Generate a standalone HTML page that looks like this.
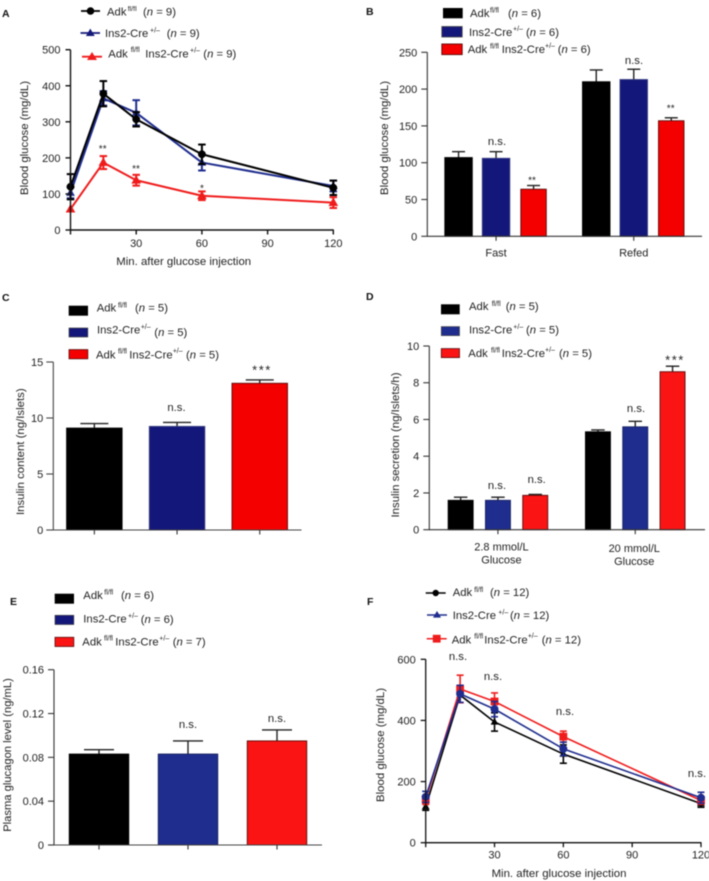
<!DOCTYPE html>
<html lang="en">
<head>
<meta charset="utf-8">
<title>Adk knockout glucose and insulin panels</title>
<style>
html,body{margin:0;padding:0;background:#fff;width:709px;height:881px;overflow:hidden}
svg{display:block;filter:blur(0.4px)}
text{font-family:"Liberation Sans",Arial,sans-serif;fill:#222;font-size:11.3px}
.sup{font-size:7px}
.it{font-style:italic}
.letter{font-weight:bold;font-size:10.5px;fill:#111}
.tick{font-size:11px}
.ttl{font-size:11.4px}
.star{font-size:10px;text-anchor:middle}
.star3{font-size:13px;text-anchor:middle;letter-spacing:1.5px}
.ns{font-size:11.3px;text-anchor:middle}
</style>
</head>
<body>
<svg id="figure" width="709" height="881" viewBox="0 0 709 881" xmlns="http://www.w3.org/2000/svg">

<!-- Panel A static -->
<g id="panelA">
<text class="letter" x="2" y="17">A</text>
<g>
<line x1="81" x2="100" y1="11" y2="11" stroke="#000" stroke-width="1.8"/><circle cx="90.5" cy="11" r="3.8" fill="#000"/>
<text x="107" y="15.3">Adk<tspan class="sup" x="127.7" y="11">fl/fl</tspan><tspan x="143" y="15.3">(</tspan><tspan class="it">n</tspan> = 9)</text>
<line x1="80.5" x2="100" y1="33" y2="33" stroke="#14197a" stroke-width="1.8"/><path d="M90.3 28.6l4.4 7.4h-8.8z" fill="#14197a"/>
<text x="105" y="37">Ins2-Cre<tspan class="sup" x="150" y="32.5">+/–</tspan><tspan x="166.7" y="37">(</tspan><tspan class="it">n</tspan> = 9)</text>
<line x1="82" x2="102" y1="56.7" y2="56.7" stroke="#f01c1c" stroke-width="1.8"/><path d="M92 52l5 8h-10z" fill="#f01c1c"/>
<text x="108.3" y="57.3">Adk<tspan class="sup" x="130.7" y="52">fl/fl</tspan><tspan x="145.3" y="57.3">Ins2-Cre</tspan><tspan class="sup" x="190" y="52.5">+/–</tspan><tspan x="203.3" y="57.3">(</tspan><tspan class="it">n</tspan> = 9)</text>
</g>
<text class="ttl" transform="translate(28,138) rotate(-90)" text-anchor="middle">Blood glucose (mg/dL)</text>
<text class="ttl" x="183.7" y="265" text-anchor="middle">Min. after glucose injection</text>
<text class="star" x="102.7" y="152">**</text>
<text class="star" x="136" y="172">**</text>
<text class="star" x="202" y="191.5">*</text>
</g>

<!-- Panel B static -->
<g id="panelB">
<text class="letter" x="366" y="15">B</text>
<g>
<rect x="443" y="8" width="19.7" height="10.3" fill="#000"/>
<text x="470" y="17">Adk<tspan class="sup" x="490" y="12.5">fl/fl</tspan><tspan x="508" y="17">(</tspan><tspan class="it">n</tspan> = 6)</text>
<rect x="441.8" y="26.5" width="20.4" height="10.5" fill="#14177a" stroke="#444" stroke-width="0.8"/>
<text x="469" y="36">Ins2-Cre<tspan class="sup" x="513" y="31">+/–</tspan><tspan x="526" y="36">(</tspan><tspan class="it">n</tspan> = 6)</text>
<rect x="441.8" y="44" width="20.4" height="10.6" fill="#f50000" stroke="#5a0a0a" stroke-width="0.9"/>
<text x="467.7" y="53">Adk<tspan class="sup" x="490" y="48.5">fl/fl</tspan><tspan x="501.7" y="53">Ins2-Cre</tspan><tspan class="sup" x="545" y="48">+/–</tspan><tspan x="557.7" y="53">(</tspan><tspan class="it">n</tspan> = 6)</text>
</g>
<text class="ttl" transform="translate(388,138) rotate(-90)" text-anchor="middle">Blood glucose (mg/dL)</text>
<text class="ns" x="497" y="145">n.s.</text>
<text class="star" x="532" y="183.4">**</text>
<text class="ns" x="634" y="64">n.s.</text>
<text class="star" x="670.7" y="111.7">**</text>
</g>

<!-- Panel C static -->
<g id="panelC">
<text class="letter" x="2" y="301">C</text>
<g>
<rect x="68.7" y="305.7" width="19.3" height="10" fill="#000"/>
<text x="96.7" y="311.7">Adk<tspan class="sup" x="118" y="307.5">fl/fl</tspan><tspan x="135" y="311.7">(</tspan><tspan class="it">n</tspan> = 5)</text>
<rect x="69" y="328" width="18.8" height="9" fill="#14177a" stroke="#444" stroke-width="0.7"/>
<text x="97" y="333.7">Ins2-Cre<tspan class="sup" x="140.7" y="329">+/–</tspan><tspan x="154.3" y="336">(</tspan><tspan class="it">n</tspan> = 5)</text>
<rect x="69" y="349.6" width="18.8" height="9.2" fill="#f50000" stroke="#5a0a0a" stroke-width="0.8"/>
<text x="96" y="358.3">Adk<tspan class="sup" x="118" y="353.5">fl/fl</tspan><tspan x="129.3" y="358.3">Ins2-Cre</tspan><tspan class="sup" x="172.7" y="353">+/–</tspan><tspan x="186" y="358.3">(</tspan><tspan class="it">n</tspan> = 5)</text>
</g>
<text class="ttl" transform="translate(24,451.7) rotate(-90)" text-anchor="middle">Insulin content (ng/Islets)</text>
<text class="ns" x="176.5" y="411">n.s.</text>
<text class="star3" x="262" y="374.5">***</text>
</g>

<!-- Panel D static -->
<g id="panelD">
<text class="letter" x="366" y="300">D</text>
<g>
<rect x="441" y="304.3" width="18.7" height="10" fill="#000"/>
<text x="469" y="310">Adk<tspan class="sup" x="491.7" y="306">fl/fl</tspan><tspan x="505.7" y="310">(</tspan><tspan class="it">n</tspan> = 5)</text>
<rect x="441.3" y="326.6" width="18.2" height="9" fill="#1f2d8e" stroke="#444" stroke-width="0.7"/>
<text x="469" y="333.3">Ins2-Cre<tspan class="sup" x="513.3" y="329">+/–</tspan><tspan x="526" y="333.3">(</tspan><tspan class="it">n</tspan> = 5)</text>
<rect x="441.3" y="348.6" width="18.2" height="9" fill="#fa1414" stroke="#5a0a0a" stroke-width="0.8"/>
<text x="468.3" y="357">Adk<tspan class="sup" x="491" y="352.5">fl/fl</tspan><tspan x="501.7" y="357">Ins2-Cre</tspan><tspan class="sup" x="545" y="352">+/–</tspan><tspan x="559" y="357">(</tspan><tspan class="it">n</tspan> = 5)</text>
</g>
<text class="ttl" transform="translate(399,445) rotate(-90)" text-anchor="middle">Insulin secretion (ng/Islets/h)</text>
<text class="ns" x="497" y="489">n.s.</text>
<text class="ns" x="536.7" y="483">n.s.</text>
<text class="ns" x="636" y="412">n.s.</text>
<text class="star3" x="675" y="364.5">***</text>
</g>

<!-- Panel E static -->
<g id="panelE">
<text class="letter" x="10" y="605">E</text>
<g>
<rect x="54.7" y="593.7" width="19.3" height="10" fill="#000"/>
<text x="83.3" y="599">Adk<tspan class="sup" x="104.3" y="594.5">fl/fl</tspan><tspan x="121" y="599">(</tspan><tspan class="it">n</tspan> = 6)</text>
<rect x="55" y="615.3" width="18.8" height="9.2" fill="#14177a" stroke="#444" stroke-width="0.7"/>
<text x="83.3" y="622.3">Ins2-Cre<tspan class="sup" x="128" y="618">+/–</tspan><tspan x="140.7" y="623">(</tspan><tspan class="it">n</tspan> = 6)</text>
<rect x="55" y="637.3" width="18.8" height="9.2" fill="#fa1414" stroke="#5a0a0a" stroke-width="0.8"/>
<text x="82.3" y="645.7">Adk<tspan class="sup" x="104" y="640.5">fl/fl</tspan><tspan x="115.3" y="645.7">Ins2-Cre</tspan><tspan class="sup" x="159.3" y="640.5">+/–</tspan><tspan x="172.7" y="645.7">(</tspan><tspan class="it">n</tspan> = 7)</text>
</g>
<text class="ttl" style="font-size:11.2px" transform="translate(11,755) rotate(-90)" text-anchor="middle">Plasma glucagon level (ng/mL)</text>
<text class="ns" x="188" y="728">n.s.</text>
<text class="ns" x="277" y="722">n.s.</text>
</g>

<!-- Panel F static -->
<g id="panelF">
<text class="letter" x="367" y="605">F</text>
<g>
<line x1="425.7" x2="445.7" y1="593" y2="593" stroke="#000" stroke-width="1.5"/><circle cx="435.7" cy="593" r="3.2" fill="#000"/>
<text x="452.7" y="596">Adk<tspan class="sup" x="474.3" y="592">fl/fl</tspan><tspan x="490" y="596">(</tspan><tspan class="it">n</tspan> = 12)</text>
<line x1="427" x2="447" y1="615" y2="615" stroke="#1f2d8e" stroke-width="1.5"/><path d="M437 611l4 6.6h-8z" fill="#1f2d8e"/>
<text x="452.7" y="619">Ins2-Cre<tspan class="sup" x="498.3" y="614.5">+/–</tspan><tspan x="510" y="619">(</tspan><tspan class="it">n</tspan> = 12)</text>
<line x1="426.7" x2="446.7" y1="638.7" y2="638.7" stroke="#f01c1c" stroke-width="1.5"/><rect x="432.8" y="634.8" width="7.8" height="7.8" fill="#f01c1c"/>
<text x="451.7" y="643.3">Adk<tspan class="sup" x="474.3" y="638.5">fl/fl</tspan><tspan x="484.3" y="643.3">Ins2-Cre</tspan><tspan class="sup" x="527.7" y="638">+/–</tspan><tspan x="541.7" y="643.3">(</tspan><tspan class="it">n</tspan> = 12)</text>
</g>
<text class="ttl" transform="translate(384,745) rotate(-90)" text-anchor="middle">Blood glucose (mg/dL)</text>
<text class="ttl" x="559" y="877" text-anchor="middle">Min. after glucose injection</text>
<text class="ns" x="458" y="660">n.s.</text>
<text class="ns" x="493" y="680">n.s.</text>
<text class="ns" x="565" y="715">n.s.</text>
<text class="ns" x="697" y="777">n.s.</text>
</g>
</svg>

<script>
// ---- Panel A data ----
const aTimes = [0, 15, 30, 60, 120];
const aXTicks = [0, 30, 60, 90, 120];
const aYTicks = [0, 100, 200, 300, 400, 500];
const aAdk = [120, 378, 307, 210, 117];
const aAdkErr = [35, 35, 20, 27, 20];
const aIns2 = [103, 365, 325, 187, 122];
const aIns2Err = [15, 20, 35, 22, 15];
const aDouble = [58, 187, 138, 95, 76];
const aDoubleErr = [0, 18, 15, 12, 15];

// ---- Panel B data ----
const bCategories = ['Fast', 'Refed'];
const bYTicks = [0, 50, 100, 150, 200, 250];
const bAdk = [107, 210];
const bAdkErr = [8, 16];
const bIns2 = [106, 213];
const bIns2Err = [9, 14];
const bDouble = [64, 157];
const bDoubleErr = [5, 4];

// ---- Panel C data ----
const cGenotypes = ['adk', 'ins2', 'double'];
const cYTicks = [0, 5, 10, 15];
const cValues = [9.1, 9.25, 13.1];
const cErrors = [0.4, 0.35, 0.3];

// ---- Panel D data ----
const dCategories = [['2.8 mmol/L', 'Glucose'], ['20 mmol/L', 'Glucose']];
const dYTicks = [0, 2, 4, 6, 8, 10];
const dAdk = [1.6, 5.33];
const dAdkErr = [0.17, 0.1];
const dIns2 = [1.6, 5.6];
const dIns2Err = [0.17, 0.3];
const dDouble = [1.87, 8.6];
const dDoubleErr = [0.05, 0.3];

// ---- Panel E data ----
const eGenotypes = ['adk', 'ins2', 'double'];
const eYTicks = [0, 0.04, 0.08, 0.12, 0.16];
const eYTickLabels = ['0', '0.04', '0.08', '0.12', '0.16'];
const eValues = [0.083, 0.083, 0.095];
const eErrors = [0.004, 0.012, 0.01];

// ---- Panel F data ----
const fTimes = [0, 15, 30, 60, 120];
const fXTicks = [0, 30, 60, 90, 120];
const fYTicks = [0, 200, 400, 600];
const fAdk = [118, 483, 395, 290, 128];
const fAdkErr = [12, 25, 30, 30, 12];
const fIns2 = [150, 487, 437, 307, 147];
const fIns2Err = [18, 28, 25, 22, 18];
const fDouble = [140, 503, 462, 347, 138];
const fDoubleErr = [15, 45, 28, 18, 12];

const SVGNS = 'http://www.w3.org/2000/svg';

function mk(parent, tag, attrs, name) {
  const el = document.createElementNS(SVGNS, tag);
  for (const k in attrs) el.setAttribute(k, attrs[k]);
  
  
  parent.appendChild(el);
  return el;
}

function linear(d0, d1, r0, r1) {
  return v => r0 + (v - d0) / (d1 - d0) * (r1 - r0);
}

function drawYAxis(g, x, y, ticks, labels, topY, botY, color, sw, tickLen, tag) {
  mk(g, 'line', {x1: x, x2: x, y1: topY, y2: botY, stroke: color, 'stroke-width': sw}, 'y-axis-' + tag);
  ticks.forEach((t, i) => {
    const py = y(t);
    mk(g, 'line', {x1: x - tickLen, x2: x, y1: py, y2: py, stroke: color, 'stroke-width': sw}, 'y-tick-' + tag);
    const lab = mk(g, 'text', {x: x - 10, y: py + 4, 'text-anchor': 'end', class: 'tick'}, 'y-tick-label-' + tag);
    lab.textContent = labels ? labels[i] : String(t);
  });
}

function drawXBase(g, x0, x1, y0, color, sw, tag) {
  mk(g, 'line', {x1: x0, x2: x1, y1: y0, y2: y0, stroke: color, 'stroke-width': sw}, 'x-axis-' + tag);
}

function drawXTick(g, px, y0, color, sw, tag) {
  mk(g, 'line', {x1: px, x2: px, y1: y0, y2: y0 + 4.5, stroke: color, 'stroke-width': sw}, 'x-tick-' + tag);
}

function drawBar(g, cx, width, value, err, y, fill, edge, capW, tag) {
  const top = y(value), base = y(0), errTop = y(value + err);
  mk(g, 'line', {x1: cx, x2: cx, y1: top, y2: errTop, stroke: '#222', 'stroke-width': 1.4}, 'error-bar-' + tag);
  mk(g, 'line', {x1: cx - capW / 2, x2: cx + capW / 2, y1: errTop, y2: errTop, stroke: '#222', 'stroke-width': 1.4}, 'error-cap-' + tag);
  mk(g, 'rect', {x: cx - width / 2, y: top, width: width, height: base - top, fill: fill, stroke: edge, 'stroke-width': 0.9}, 'bar-' + tag);
}

function drawLineSeries(g, times, values, errs, x, y, color, marker, sw, capW, size, tag) {
  const pts = times.map((t, i) => x(t).toFixed(2) + ',' + y(values[i]).toFixed(2)).join(' ');
  mk(g, 'polyline', {points: pts, fill: 'none', stroke: color, 'stroke-width': sw, 'stroke-linejoin': 'round'}, 'line-' + tag);
  times.forEach((t, i) => {
    const px = x(t), py = y(values[i]), hi = y(values[i] + errs[i]), lo = y(values[i] - errs[i]);
    if (errs[i] > 0) {
      mk(g, 'line', {x1: px, x2: px, y1: hi, y2: lo, stroke: color, 'stroke-width': sw}, 'error-bar-' + tag);
      mk(g, 'line', {x1: px - capW / 2, x2: px + capW / 2, y1: hi, y2: hi, stroke: color, 'stroke-width': sw}, 'error-cap-' + tag);
      mk(g, 'line', {x1: px - capW / 2, x2: px + capW / 2, y1: lo, y2: lo, stroke: color, 'stroke-width': sw}, 'error-cap-' + tag);
    }
    if (marker === 'circle') {
      mk(g, 'circle', {cx: px, cy: py, r: size, fill: color}, 'point-' + tag);
    } else if (marker === 'square') {
      mk(g, 'rect', {x: px - size, y: py - size, width: size * 2, height: size * 2, fill: color}, 'point-' + tag);
    } else {
      const d = 'M' + px + ' ' + (py - size * 1.2) + 'l' + (size * 1.15) + ' ' + (size * 2) + 'h' + (-size * 2.3) + 'z';
      mk(g, 'path', {d: d, fill: color}, 'point-' + tag);
    }
  });
}

function drawTimeTicks(g, ticks, x, y0, color, sw, labelOffset, tag) {
  ticks.forEach(t => {
    const px = x(t);
    drawXTick(g, px, y0, color, sw, tag);
    if (t !== 0) {
      const lab = mk(g, 'text', {x: px, y: y0 + labelOffset, 'text-anchor': 'middle', class: 'tick'}, 'x-tick-label-' + tag);
      lab.textContent = String(t);
    }
  });
}

// ---- Panel A ----
(function () {
  const g = document.getElementById('panelA');
  const x = linear(0, 120, 70.5, 333.3), y = linear(0, 500, 230, 49.7);
  drawLineSeries(g, aTimes, aDouble, aDoubleErr, x, y, '#f01c1c', 'triangle', 2, 7.5, 4.2, 'a-double');
  drawLineSeries(g, aTimes, aIns2, aIns2Err, x, y, '#1f2d8e', 'triangle', 2, 7.5, 3.8, 'a-ins2');
  drawLineSeries(g, aTimes, aAdk, aAdkErr, x, y, '#000', 'circle', 2, 7.5, 3.9, 'a-adk');
  drawYAxis(g, 70.5, y, aYTicks, null, 49.7, 230.7, '#111', 1.4, 5, 'a');
  drawXBase(g, 70.5, 333.8, 230, '#111', 1.4, 'a');
  drawTimeTicks(g, aXTicks, x, 230, '#111', 1.4, 17, 'a');
})();

// ---- Panel B ----
(function () {
  const g = document.getElementById('panelB');
  const y = linear(0, 250, 236.3, 52.3);
  const band = i => 427.2 + 137.7 * (i + 0.5);
  const series = [[bAdk, bAdkErr, '#000', '#000', -37.5, 27.5, 'adk'], [bIns2, bIns2Err, '#14177a', '#3a3f80', 0, 27.5, 'ins2'], [bDouble, bDoubleErr, '#f50000', '#5a0a0a', 37.5, 25.5, 'double']];
  bCategories.forEach((c, i) => {
    series.forEach(s => drawBar(g, band(i) + s[4], s[5], s[0][i], s[1][i], y, s[2], s[3], 13, 'b-' + c.toLowerCase() + '-' + s[6]));
  });
  drawYAxis(g, 427.3, y, bYTicks, null, 52.3, 236.8, '#333', 1.1, 6, 'b');
  drawXBase(g, 427.3, 702, 236.3, '#333', 1.1, 'b');
  bCategories.forEach((c, i) => {
    drawXTick(g, band(i), 236.3, '#333', 1.1, 'b');
    const lab = mk(g, 'text', {x: band(i), y: 256.7, 'text-anchor': 'middle', class: 'tick'}, 'x-tick-label-b');
    lab.textContent = c;
  });
})();

// ---- Panel C ----
(function () {
  const g = document.getElementById('panelC');
  const y = linear(0, 15, 530, 362);
  const band = i => 53 + 82.7 * (i + 0.5);
  const fills = ['#000', '#14177a', '#f50000'], edges = ['#000', '#3a3f80', '#5a0a0a'];
  cGenotypes.forEach((c, i) => drawBar(g, band(i), 55.5, cValues[i], cErrors[i], y, fills[i], edges[i], 28, 'c-' + c));
  drawYAxis(g, 53.3, y, cYTicks, null, 362, 530.5, '#444', 1.1, 7, 'c');
  drawXBase(g, 53.3, 301.5, 530, '#444', 1.1, 'c');
  cGenotypes.forEach((c, i) => drawXTick(g, band(i), 530, '#333', 1.1, 'c'));
})();

// ---- Panel D ----
(function () {
  const g = document.getElementById('panelD');
  const y = linear(0, 10, 529.7, 346);
  const band = i => 429.3 + 137.3 * (i + 0.5);
  const series = [[dAdk, dAdkErr, '#000', '#000', -37.3, 'adk'], [dIns2, dIns2Err, '#1f2d8e', '#16205f', 0, 'ins2'], [dDouble, dDoubleErr, '#fa1414', '#5a0a0a', 37.3, 'double']];
  dCategories.forEach((c, i) => {
    series.forEach(s => drawBar(g, band(i) + s[4], 25, s[0][i], s[1][i], y, s[2], s[3], 13.5, 'd-group' + (i + 1) + '-' + s[5]));
  });
  drawYAxis(g, 429.3, y, dYTicks, null, 346, 530.2, '#333', 1.1, 6, 'd');
  drawXBase(g, 429.3, 705, 529.7, '#333', 1.1, 'd');
  dCategories.forEach((c, i) => {
    drawXTick(g, band(i), 529.7, '#333', 1.1, 'd');
    c.forEach((line, j) => {
      const lab = mk(g, 'text', {x: band(i) + (i === 0 ? 3.5 : -1), y: (i === 0 ? 550.7 : 552) + j * 13, 'text-anchor': 'middle', class: 'tick'}, 'x-tick-label-d');
      lab.textContent = line;
    });
  });
})();

// ---- Panel E ----
(function () {
  const g = document.getElementById('panelE');
  const y = linear(0, 0.16, 845, 669.7);
  const band = i => 54.5 + 89 * (i + 0.5);
  const fills = ['#000', '#1f2d8e', '#fa1414'], edges = ['#000', '#16205f', '#5a0a0a'];
  eGenotypes.forEach((c, i) => drawBar(g, band(i), 59.5, eValues[i], eErrors[i], y, fills[i], edges[i], 30, 'e-' + c));
  drawYAxis(g, 54, y, eYTicks, eYTickLabels, 669.7, 845.5, '#333', 1.1, 6, 'e');
  drawXBase(g, 54, 322, 845, '#444', 1.1, 'e');
  eGenotypes.forEach((c, i) => drawXTick(g, band(i), 845, '#333', 1.1, 'e'));
})();

// ---- Panel F ----
(function () {
  const g = document.getElementById('panelF');
  const x = linear(0, 120, 425.7, 701), y = linear(0, 600, 842.7, 659.3);
  drawLineSeries(g, fTimes, fAdk, fAdkErr, x, y, '#000', 'triangle', 1.6, 7, 3.4, 'f-adk');
  drawLineSeries(g, fTimes, fDouble, fDoubleErr, x, y, '#f01c1c', 'square', 1.6, 7, 3.9, 'f-double');
  drawLineSeries(g, fTimes, fIns2, fIns2Err, x, y, '#1f2d8e', 'circle', 1.6, 7, 4, 'f-ins2');
  drawYAxis(g, 425.7, y, fYTicks, null, 659.3, 843.3, '#111', 1.3, 5, 'f');
  drawXBase(g, 425.7, 701.5, 842.7, '#111', 1.3, 'f');
  drawTimeTicks(g, fXTicks, x, 842.7, '#111', 1.3, 16, 'f');
})();
</script>
</body>
</html>
